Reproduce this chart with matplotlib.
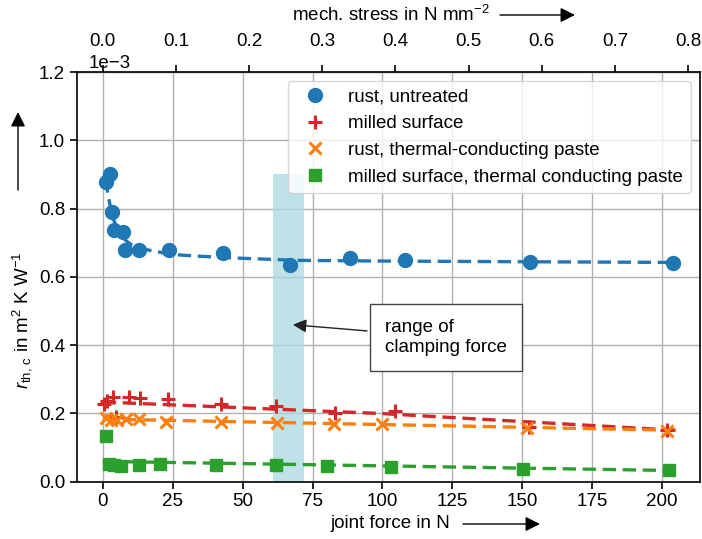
import numpy as np
import matplotlib
matplotlib.use("Agg")
import matplotlib.pyplot as plt

plt.rcParams['font.family'] = ['Liberation Sans', 'DejaVu Sans']
FS = 13.5
plt.rcParams['font.size'] = FS
plt.rcParams['mathtext.fontset'] = 'custom'
plt.rcParams['mathtext.rm'] = 'Liberation Sans'
plt.rcParams['mathtext.it'] = 'Liberation Sans:italic'

SCALE = 1e-3

# rust, untreated
rust_x = [1.1, 2.5, 3.2, 4.0, 7.4, 7.9, 13.0, 23.7, 43.1, 66.8, 88.3, 107.9, 152.6, 203.8]
rust_y = [0.879, 0.901, 0.790, 0.738, 0.732, 0.678, 0.679, 0.679, 0.671, 0.634, 0.654, 0.649, 0.644, 0.640]
rust_fit_x = [1, 2, 3, 4, 5, 6, 8, 10, 13, 17, 25, 35, 50, 70, 100, 150, 205]
rust_fit_y = [0.885, 0.835, 0.795, 0.765, 0.745, 0.730, 0.708, 0.695, 0.685, 0.677, 0.665,
              0.660, 0.654, 0.648, 0.646, 0.644, 0.642]

# milled surface
milled_x = [0.5, 1.5, 3.5, 4.6, 9.4, 13.3, 23.3, 42.1, 61.8, 82.9, 104.6, 152.5, 201.7]
milled_y = [0.228, 0.236, 0.248, 0.190, 0.247, 0.245, 0.242, 0.228, 0.221, 0.200, 0.206, 0.161, 0.151]
milled_fit_x = [0, 100, 205]
milled_fit_y = [0.233, 0.199, 0.150]

# rust, thermal-conducting paste
paste_x = [1.1, 2.9, 5.2, 8.2, 13.0, 22.5, 42.1, 62.4, 82.6, 99.9, 151.6, 201.7]
paste_y = [0.186, 0.181, 0.181, 0.183, 0.183, 0.173, 0.175, 0.171, 0.168, 0.168, 0.156, 0.149]
paste_fit_x = [0, 205]
paste_fit_y = [0.183, 0.150]

# milled surface, thermal conducting paste
mpaste_x = [1.1, 2.3, 4.0, 6.4, 13.0, 20.5, 40.4, 61.8, 80.0, 103.2, 150.2, 202.3]
mpaste_y = [0.133, 0.052, 0.049, 0.046, 0.049, 0.051, 0.049, 0.049, 0.046, 0.042, 0.037, 0.034]
mpaste_fit_x = [0, 205]
mpaste_fit_y = [0.059, 0.032]

clamp_range = [61, 72]
clamp_top = 0.90

AREA = 261.6  # mm^2, force -> stress

W, H = 702, 539
fig = plt.figure(figsize=(W / 100, H / 100), dpi=100)
L, R, T, B = 77, 700, 72, 481.5
ax = fig.add_axes([L / W, 1 - B / H, (R - L) / W, (B - T) / H])

def s(v):
    return np.asarray(v) * SCALE

ax.fill_between(clamp_range, 0, clamp_top * SCALE, color='#a9d9e1', alpha=0.75, lw=0, zorder=1)

c_blue, c_red, c_orange, c_green = '#1f77b4', '#d62728', '#ff7f0e', '#2ca02c'

fit_kw = dict(ls=(0, (4, 2)), lw=2.4, zorder=2)
ax.plot(rust_fit_x, s(rust_fit_y), color=c_blue, **fit_kw)
ax.plot(milled_fit_x, s(milled_fit_y), color=c_red, **fit_kw)
ax.plot(paste_fit_x, s(paste_fit_y), color=c_orange, **fit_kw)
ax.plot(mpaste_fit_x, s(mpaste_fit_y), color=c_green, **fit_kw)

ax.plot(rust_x, s(rust_y), 'o', ms=10, color=c_blue, ls='none', label='rust, untreated', zorder=3)
ax.plot(milled_x, s(milled_y), '+', ms=10, mew=2.2, color=c_red, ls='none', label='milled surface', zorder=3)
ax.plot(paste_x, s(paste_y), 'x', ms=9, mew=2.2, color=c_orange, ls='none',
        label='rust, thermal-conducting paste', zorder=3)
ax.plot(mpaste_x, s(mpaste_y), 's', ms=9, color=c_green, ls='none',
        label='milled surface, thermal conducting paste', zorder=3)

ax.set_xlim(-9.2, 213.5)
ax.set_ylim(0, 1.2e-3)
ax.set_xticks([0, 25, 50, 75, 100, 125, 150, 175, 200])
ax.set_yticks(np.arange(0, 1.21e-3, 0.2e-3))
ax.ticklabel_format(axis='y', style='sci', scilimits=(0, 0))
off = ax.yaxis.get_offset_text()
off.set_fontsize(FS)
off.set_x(0.018)
ax.grid(True, color='#b0b0b0', lw=1)
ax.set_axisbelow(True)
for sp in ax.spines.values():
    sp.set_linewidth(1.2)
ax.tick_params(width=1.2, length=5, labelsize=FS)

sec = ax.secondary_xaxis('top', functions=(lambda f: f / AREA, lambda p: p * AREA))
sec.set_xticks([0.0, 0.1, 0.2, 0.3, 0.4, 0.5, 0.6, 0.7, 0.8])
sec.tick_params(width=1.2, length=5, labelsize=FS, pad=11)

leg = ax.legend(loc='upper right', fontsize=FS, framealpha=0.8, borderaxespad=0.5,
                handletextpad=0.8, handlelength=2.0)

ax.annotate('range of\nclamping force', xy=(67, 0.46e-3), xytext=(101, 0.422e-3),
            ha='left', va='center', fontsize=FS, multialignment='left',
            bbox=dict(boxstyle='square,pad=0.8', fc='white', ec='#444444', lw=1),
            arrowprops=dict(arrowstyle='-|>', color='#222222', lw=1, mutation_scale=20))

def fp(x, y):
    return (x / W, 1 - y / H)

fig.text(*fp(390, 524), 'joint force in N', ha='center', va='center', fontsize=FS)
fig.text(*fp(391, 15), r'mech. stress in N mm$^{-2}$', ha='center', va='center', fontsize=FS)
fig.text(*fp(22, 320), r'$r_{\rm th,\,c}$ in m$^2$ K W$^{-1}$', ha='center', va='center',
         rotation=90, fontsize=FS)

ap = dict(arrowstyle='-|>', color='black', lw=1, mutation_scale=22, shrinkA=0, shrinkB=0)
ax.annotate('', xy=fp(540, 524), xytext=fp(463, 524), xycoords='figure fraction',
            textcoords='figure fraction', arrowprops=ap)
ax.annotate('', xy=fp(575, 15), xytext=fp(500, 15), xycoords='figure fraction',
            textcoords='figure fraction', arrowprops=ap)
ax.annotate('', xy=fp(18, 112), xytext=fp(18, 190), xycoords='figure fraction',
            textcoords='figure fraction', arrowprops=ap)

fig.savefig('out.png', dpi=100)
